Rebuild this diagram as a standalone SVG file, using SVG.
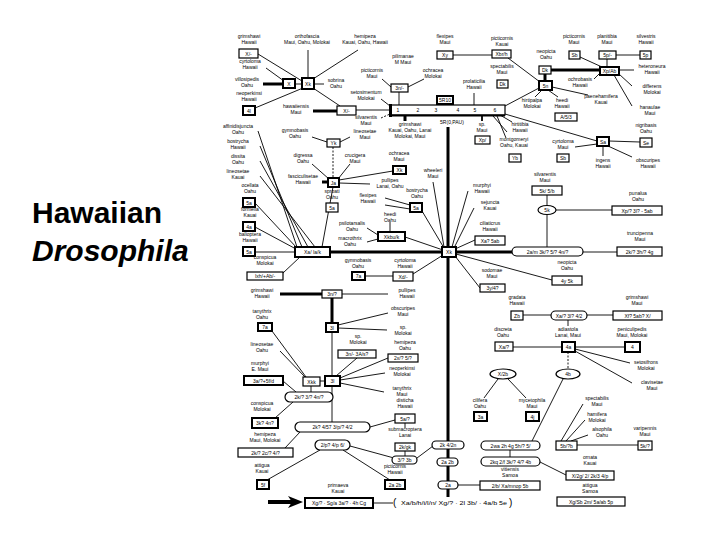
<svg xmlns="http://www.w3.org/2000/svg" width="720" height="540" viewBox="0 0 720 540">
<style>
text{font-family:"Liberation Sans",Arial,sans-serif;fill:#000}
.t{font-size:5px;text-anchor:middle}
.bt{font-size:5px;text-anchor:middle}
.b{fill:#fff;stroke:#000;stroke-width:1.2}
.bk{fill:#fff;stroke:#000;stroke-width:2}
.o{fill:#fff;stroke:#000;stroke-width:1.2}
.title{font-size:30px;font-weight:bold}
.c line{stroke:#000;stroke-width:0.9;fill:none}
.c .k{stroke-width:3}
.c .m{stroke-width:1.8}
.c .d{stroke-dasharray:2 1.5}
</style>
<rect width="720" height="540" fill="#fff"/>
<text class="title" x="32" y="223">Hawaiian</text>
<text class="title" x="32" y="261" font-style="italic">Drosophila</text>

<g class="c" id="connectors">
<line x1="258" y1="54" x2="302" y2="81"/>
<line x1="266" y1="68" x2="284" y2="81"/>
<line class="k" x1="263" y1="84" x2="283" y2="84"/>
<line x1="295" y1="84" x2="302" y2="84"/>
<line x1="308" y1="78" x2="308" y2="50"/>
<line x1="313" y1="79" x2="358" y2="50"/>
<line x1="314" y1="84" x2="324" y2="84"/>
<line x1="255" y1="108" x2="303" y2="88"/>
<line x1="313" y1="88" x2="340" y2="106"/>
<line class="k" x1="313" y1="111" x2="337" y2="111"/>
<line x1="356" y1="110" x2="390" y2="110"/>
<line x1="381" y1="99" x2="390" y2="106"/>
<line class="d" x1="381" y1="118" x2="390" y2="114"/>
<line x1="382" y1="79" x2="391" y2="87"/>
<line x1="424" y1="79" x2="408" y2="87"/>
<line x1="399" y1="92" x2="399" y2="105"/>
<line x1="453" y1="55" x2="492" y2="55"/>
<line x1="474" y1="93" x2="474" y2="105"/>
<line class="k" x1="405" y1="115" x2="405" y2="121"/>
<line class="m" x1="482" y1="115" x2="482" y2="121"/>
<line x1="493" y1="116" x2="507" y2="132"/>
<line x1="497" y1="116" x2="506" y2="138"/>
<line x1="500" y1="115" x2="512" y2="122"/>
<line x1="508" y1="58" x2="540" y2="82"/>
<line class="k" x1="545" y1="74" x2="545" y2="81"/>
<line class="k" x1="551" y1="70" x2="600" y2="70"/>
<line x1="505" y1="106" x2="539" y2="88"/>
<line x1="542" y1="90" x2="535" y2="97"/>
<line x1="548" y1="90" x2="558" y2="97"/>
<line x1="552" y1="87" x2="588" y2="95"/>
<line x1="580" y1="57" x2="602" y2="67"/>
<line x1="607" y1="59" x2="607" y2="67"/>
<line x1="616" y1="55" x2="640" y2="55"/>
<line x1="619" y1="70" x2="634" y2="70"/>
<line x1="619" y1="74" x2="632" y2="86"/>
<line x1="614" y1="75" x2="632" y2="106"/>
<line x1="600" y1="73" x2="594" y2="79"/>
<line x1="505" y1="114" x2="597" y2="141"/>
<line x1="609" y1="141" x2="640" y2="142"/>
<line x1="597" y1="144" x2="575" y2="147"/>
<line x1="603" y1="146" x2="603" y2="156"/>
<line x1="608" y1="146" x2="632" y2="157"/>
<line x1="547" y1="195" x2="547" y2="206"/>
<line x1="547" y1="215" x2="547" y2="247"/>
<line x1="556" y1="210" x2="612" y2="210"/>
<line class="k" x1="456" y1="252" x2="512" y2="252"/>
<line x1="583" y1="252" x2="617" y2="252"/>
<line x1="433" y1="182" x2="444" y2="247"/>
<line x1="452" y1="247" x2="468" y2="191"/>
<line x1="454" y1="248" x2="474" y2="208"/>
<line x1="455" y1="249" x2="475" y2="240"/>
<line x1="455" y1="256" x2="480" y2="288"/>
<line x1="456" y1="254" x2="552" y2="280"/>
<line x1="523" y1="315" x2="551" y2="315"/>
<line x1="587" y1="315" x2="613" y2="315"/>
<line x1="568" y1="320" x2="568" y2="326"/>
<line x1="513" y1="347" x2="562" y2="347"/>
<line x1="575" y1="347" x2="625" y2="347"/>
<line x1="575" y1="349" x2="630" y2="363"/>
<line x1="575" y1="351" x2="632" y2="383"/>
<line class="d" x1="568" y1="352" x2="568" y2="369"/>
<line x1="498" y1="379" x2="484" y2="398"/>
<line x1="508" y1="379" x2="526" y2="398"/>
<line x1="532" y1="441" x2="563" y2="379"/>
<line x1="510" y1="450" x2="510" y2="457"/>
<line x1="540" y1="462" x2="566" y2="475"/>
<line x1="458" y1="485" x2="480" y2="485"/>
<line x1="561" y1="441" x2="583" y2="404"/>
<line x1="566" y1="441" x2="585" y2="420"/>
<line x1="571" y1="441" x2="588" y2="435"/>
<line x1="577" y1="445" x2="638" y2="445"/>
<line class="k" x1="448" y1="127" x2="448" y2="497"/>
<line x1="258" y1="131" x2="297" y2="247"/>
<line x1="260" y1="146" x2="302" y2="247"/>
<line x1="260" y1="161" x2="308" y2="247"/>
<line x1="260" y1="176" x2="315" y2="247"/>
<line x1="333" y1="187" x2="322" y2="247"/>
<line x1="255" y1="203" x2="297" y2="248"/>
<line x1="255" y1="227" x2="296" y2="249"/>
<line x1="255" y1="252" x2="295" y2="252"/>
<line x1="283" y1="273" x2="300" y2="257"/>
<line class="k" x1="330" y1="252" x2="442" y2="252"/>
<line x1="312" y1="137" x2="327" y2="142"/>
<line x1="340" y1="142" x2="350" y2="137"/>
<line class="d" x1="333" y1="147" x2="333" y2="178"/>
<line x1="312" y1="164" x2="329" y2="179"/>
<line x1="350" y1="164" x2="338" y2="179"/>
<line x1="339" y1="180" x2="393" y2="171"/>
<line class="k" x1="322" y1="182" x2="328" y2="182"/>
<line x1="339" y1="183" x2="370" y2="184"/>
<line x1="385" y1="198" x2="410" y2="205"/>
<line x1="385" y1="205" x2="410" y2="209"/>
<line x1="422" y1="211" x2="444" y2="248"/>
<line x1="367" y1="228" x2="378" y2="235"/>
<line x1="367" y1="242" x2="378" y2="239"/>
<line x1="390" y1="222" x2="390" y2="232"/>
<line x1="405" y1="237" x2="443" y2="250"/>
<line x1="365" y1="276" x2="393" y2="276"/>
<line x1="413" y1="274" x2="443" y2="255"/>
<line class="k" x1="280" y1="294" x2="322" y2="294"/>
<line x1="342" y1="294" x2="388" y2="294"/>
<line class="k" x1="332" y1="298" x2="332" y2="323"/>
<line x1="338" y1="325" x2="388" y2="313"/>
<line x1="338" y1="328" x2="387" y2="330"/>
<line x1="332" y1="332" x2="332" y2="376"/>
<line x1="272" y1="331" x2="306" y2="377"/>
<line x1="280" y1="351" x2="305" y2="377"/>
<line x1="320" y1="381" x2="325" y2="381"/>
<line x1="336" y1="376" x2="357" y2="358"/>
<line x1="340" y1="378" x2="388" y2="358"/>
<line x1="340" y1="380" x2="385" y2="373"/>
<line x1="340" y1="383" x2="384" y2="392"/>
<line x1="283" y1="381" x2="296" y2="392"/>
<line x1="311" y1="386" x2="311" y2="392"/>
<line x1="293" y1="402" x2="275" y2="418"/>
<line x1="332" y1="386" x2="332" y2="422"/>
<line x1="370" y1="427" x2="395" y2="420"/>
<line x1="405" y1="423" x2="405" y2="428"/>
<line x1="300" y1="432" x2="285" y2="448"/>
<line x1="320" y1="450" x2="267" y2="480"/>
<line x1="343" y1="450" x2="390" y2="480"/>
<line x1="350" y1="446" x2="394" y2="458"/>
<line x1="417" y1="458" x2="433" y2="446"/>
<line x1="405" y1="451" x2="405" y2="456"/>
<line x1="373" y1="503" x2="393" y2="503"/>
</g>

<g id="arrow"><line x1="268" y1="502" x2="292" y2="502" stroke="#000" stroke-width="4"/><polygon points="288,496 303,502 288,508 292,502" fill="#000"/></g>

<g id="n_grimshawi"><text class="t" x="249" y="38">grimshawi<tspan x="249" dy="6">Hawaii</tspan></text><rect class="b" x="239" y="49" width="19" height="9"/><text class="bt" x="248.5" y="55.5">X/-</text></g>
<g id="n_orthofascia"><text class="t" x="307" y="38">orthofascia<tspan x="307" dy="6">Maui, Oahu, Molokai</tspan></text></g>
<g id="n_hemipeza"><text class="t" x="365" y="38">hemipeza<tspan x="365" dy="6">Kauai, Oahu, Hawaii</tspan></text></g>
<g id="n_cyrtoloma"><text class="t" x="250" y="63">cyrtoloma<tspan x="250" dy="6">Hawaii</tspan></text></g>
<g id="n_villosipedis"><text class="t" x="247" y="81">villosipedis<tspan x="247" dy="6">Oahu</tspan></text></g>
<g id="n_neoperkinsi"><text class="t" x="249" y="95">neoperkinsi<tspan x="249" dy="6">Hawaii</tspan></text><rect class="bk" x="243" y="106" width="12" height="9"/><text class="bt" x="249" y="112.5">4l</text></g>
<g id="b_X"><rect class="bk" x="283" y="79" width="12" height="9"/><text class="bt" x="289" y="85.5">X</text></g>
<g id="b_Xk1"><rect class="bk" x="302" y="78" width="12" height="11"/><text class="bt" x="308" y="85.5">Xk</text></g>
<g id="n_sobrina"><text class="t" x="336" y="82">sobrina<tspan x="336" dy="6">Oahu</tspan></text></g>
<g id="n_hawaiiensis"><text class="t" x="296" y="108">hawaiiensis<tspan x="296" dy="6">Maui</tspan></text><rect class="b" x="337" y="106" width="19" height="9"/><text class="bt" x="346.5" y="112.5">X/-</text></g>
<g id="n_setosimentum"><text class="t" x="366" y="94">setosimentum<tspan x="366" dy="6">Molokai</tspan></text></g>
<g id="n_silvarentis"><text class="t" x="366" y="119">silvarentis<tspan x="366" dy="6">Maui</tspan></text></g>
<g id="n_3n"><text class="t" x="403" y="58">pilimanae<tspan x="403" dy="6">M Maui</tspan></text><text class="t" x="372" y="72">picticornis<tspan x="372" dy="6">Maui</tspan></text><text class="t" x="433" y="72">ochracea<tspan x="433" dy="6">Molokai</tspan></text><rect class="b" x="391" y="84" width="17" height="8"/><text class="bt" x="399.5" y="90">3n/-</text></g>
<g id="n_Xy"><text class="t" x="445" y="38">flexipes<tspan x="445" dy="6">Maui</tspan></text><rect class="b" x="437" y="51" width="16" height="8"/><text class="bt" x="445" y="57">Xy</text></g>
<g id="bar"><rect x="390" y="105" width="115" height="10" fill="#fff" stroke="#000" stroke-width="1.2"/><rect x="389" y="104" width="3" height="13" fill="#000"/><line x1="390" y1="115.5" x2="505" y2="115.5" stroke="#000" stroke-width="2.2"/>
<text class="bt" x="398" y="112">1</text><text class="bt" x="418" y="112">2</text><text class="bt" x="436" y="112">3</text><text class="bt" x="458" y="112">4</text><text class="bt" x="475" y="112">5</text><text class="bt" x="495" y="112">6</text>
<rect class="bk" x="437" y="96" width="16" height="8"/><text class="bt" x="445" y="102">5R10</text><text class="t" x="452" y="124">5R(0,PAU)</text></g>
<g id="n_grimshawi2"><text class="t" x="410" y="126">grimshawi<tspan x="410" dy="6">Kauai, Oahu, Lanai</tspan><tspan x="410" dy="6">Molokai, Maui</tspan></text></g>
<g id="n_Xp1"><text class="t" x="482" y="126">sp.<tspan x="482" dy="6">Maui</tspan></text><rect class="b" x="475" y="136" width="15" height="8"/><text class="bt" x="482.5" y="142">Xp/</text></g>
<g id="n_Yb"><text class="t" x="520" y="126">hirtitibia<tspan x="520" dy="6">Hawaii</tspan></text><text class="t" x="514" y="141">montgomeryi<tspan x="514" dy="6">Oahu, Kauai</tspan></text><rect class="b" x="509" y="154" width="12" height="8"/><text class="bt" x="515" y="160">Yb</text></g>
<g id="n_prolaticilia"><text class="t" x="474" y="83">prolaticilia<tspan x="474" dy="6">Hawaii</tspan></text></g>
<g id="n_Xbr"><text class="t" x="502" y="40">picticornis<tspan x="502" dy="6">Kauai</tspan></text><rect class="b" x="492" y="50" width="19" height="8"/><text class="bt" x="501.5" y="56">Xbr/h</text></g>
<g id="n_Dk2"><text class="t" x="502" y="68">spectabilis<tspan x="502" dy="6">Maui</tspan></text><rect class="b" x="497" y="80" width="11" height="8"/><text class="bt" x="502.5" y="86">Dk</text></g>
<g id="b_5n"><rect class="bk" x="539" y="81" width="13" height="9"/><text class="bt" x="545.5" y="87.5">5n</text></g>
<g id="n_Dk1"><text class="t" x="546" y="53">neopicta<tspan x="546" dy="6">Oahu</tspan></text><rect class="b" x="539" y="66" width="12" height="8"/><text class="bt" x="545" y="72">Dk</text></g>
<g id="n_5n_lab"><text class="t" x="532" y="102">hirtipalpa<tspan x="532" dy="6">Molokai</tspan></text><text class="t" x="562" y="102">heedi<tspan x="562" dy="6">Hawaii</tspan></text><rect class="b" x="555" y="113" width="22" height="8"/><text class="bt" x="566" y="119">A/5/3</text><text class="t" x="601" y="98">paenehamifera<tspan x="601" dy="6">Kauai</tspan></text><text class="t" x="580" y="81">ochrobasis<tspan x="580" dy="6">Hawaii</tspan></text></g>
<g id="n_Sb1"><text class="t" x="574" y="38">picticornis<tspan x="574" dy="6">Maui</tspan></text><rect class="b" x="569" y="51" width="11" height="8"/><text class="bt" x="574.5" y="57">Sb</text></g>
<g id="n_5p1"><text class="t" x="607" y="38">planitibia<tspan x="607" dy="6">Maui</tspan></text><rect class="b" x="599" y="51" width="17" height="8"/><text class="bt" x="607.5" y="57">5p/-</text></g>
<g id="n_5p2"><text class="t" x="646" y="38">silvestris<tspan x="646" dy="6">Hawaii</tspan></text><rect class="b" x="640" y="51" width="11" height="8"/><text class="bt" x="645.5" y="57">5p</text></g>
<g id="b_Xp"><rect class="bk" x="600" y="67" width="19" height="8"/><text class="bt" x="609.5" y="73">Xp/Ab</text></g>
<g id="n_Xp_lab"><text class="t" x="652" y="68">heteroneura<tspan x="652" dy="6">Hawaii</tspan></text><text class="t" x="652" y="88">differens<tspan x="652" dy="6">Molokai</tspan></text><text class="t" x="650" y="109">hanaulae<tspan x="650" dy="6">Maui</tspan></text></g>
<g id="b_Sa"><rect class="bk" x="597" y="137" width="12" height="9"/><text class="bt" x="603" y="143.5">Sa</text></g>
<g id="n_Se"><text class="t" x="646" y="127">nigribasis<tspan x="646" dy="6">Oahu</tspan></text><rect class="b" x="640" y="138" width="12" height="9"/><text class="bt" x="646" y="144.5">Se</text></g>
<g id="n_Sb2"><text class="t" x="563" y="143">cyrtoloma<tspan x="563" dy="6">Maui</tspan></text><rect class="b" x="557" y="154" width="12" height="8"/><text class="bt" x="563" y="160">Sb</text></g>
<g id="n_Sa_lab"><text class="t" x="603" y="162">ingens<tspan x="603" dy="6">Hawaii</tspan></text><text class="t" x="648" y="162">obscuripes<tspan x="648" dy="6">Hawaii</tspan></text></g>
<g id="n_5k1"><text class="t" x="545" y="176">silvarentis<tspan x="545" dy="6">Maui</tspan></text><rect class="b" x="532" y="186" width="30" height="9"/><text class="bt" x="547" y="192.5">5k/ 5/b</text></g>
<g id="o_5k"><ellipse class="o" cx="547" cy="210" rx="9" ry="4.5"/><text class="bt" x="547" y="212">5k</text></g>
<g id="n_Xp2"><text class="t" x="638" y="195">punalua<tspan x="638" dy="6">Oahu</tspan></text><rect class="b" x="612" y="206" width="50" height="9"/><text class="bt" x="637" y="212.5">Xp/? 3l? - 5ab</text></g>
<g id="o_main"><rect class="o" x="512" y="247" width="71" height="9" rx="4.5"/><text class="bt" x="547.5" y="253.5">2a/m 3k/? 5/? 4n/?</text></g>
<g id="n_truncipenna"><text class="t" x="640" y="235">truncipenna<tspan x="640" dy="6">Maui</tspan></text><rect class="b" x="617" y="247" width="45" height="9"/><text class="bt" x="639.5" y="253.5">2k/? 3h/? 4g</text></g>
<g id="n_right_fan"><text class="t" x="433" y="172">wheeleri<tspan x="433" dy="6">Maui</tspan></text><text class="t" x="482" y="187">murphyi<tspan x="482" dy="6">Hawaii</tspan></text><text class="t" x="490" y="204">sejuncta<tspan x="490" dy="6">Kauai</tspan></text><text class="t" x="490" y="225">ciliaticrus<tspan x="490" dy="6">Hawaii</tspan></text><rect class="b" x="475" y="236" width="30" height="9"/><text class="bt" x="490" y="242.5">Xa? 5ab</text></g>
<g id="b_node"><rect class="bk" x="442" y="247" width="14" height="10"/><text class="bt" x="449" y="254">Xk</text></g>
<g id="n_3y"><text class="t" x="492" y="272">sodomae<tspan x="492" dy="6">Maui</tspan></text><rect class="b" x="480" y="284" width="25" height="8"/><text class="bt" x="492.5" y="290">3y/4?</text></g>
<g id="n_4y"><text class="t" x="567" y="264">neopicta<tspan x="567" dy="6">Oahu</tspan></text><rect class="b" x="552" y="276" width="30" height="9"/><text class="bt" x="567" y="282.5">4y 5k</text></g>
<g id="n_Zb"><text class="t" x="517" y="299">gradata<tspan x="517" dy="6">Hawaii</tspan></text><rect class="b" x="511" y="311" width="12" height="9"/><text class="bt" x="517" y="317.5">Zb</text></g>
<g id="o_Xa3l"><rect class="o" x="551" y="311" width="36" height="9" rx="4.5"/><text class="bt" x="569" y="317.5">Xa/? 3l? 4/2</text></g>
<g id="n_Xf"><text class="t" x="637" y="299">grimshawi<tspan x="637" dy="6">Maui</tspan></text><rect class="b" x="613" y="311" width="49" height="9"/><text class="bt" x="637.5" y="317.5">Xf? 5ab? X/</text></g>
<g id="n_Xa1"><text class="t" x="503" y="331">discreta<tspan x="503" dy="6">Oahu</tspan></text><rect class="b" x="495" y="342" width="18" height="9"/><text class="bt" x="504" y="348.5">Xa/?</text></g>
<g id="n_4a"><text class="t" x="568" y="331">adiastola<tspan x="568" dy="6">Lanai, Maui</tspan></text><rect class="bk" x="562" y="342" width="13" height="10"/><text class="bt" x="568.5" y="349">4a</text></g>
<g id="n_4"><text class="t" x="632" y="331">peniculipedis<tspan x="632" dy="6">Maui, Molokai</tspan></text><rect class="bk" x="625" y="342" width="15" height="10"/><text class="bt" x="632.5" y="349">4</text></g>
<g id="n_4a_lab"><text class="t" x="646" y="364">setosifrons<tspan x="646" dy="6">Molokai</tspan></text><text class="t" x="652" y="384">clavisetae<tspan x="652" dy="6">Maui</tspan></text></g>
<g id="o_4b"><ellipse class="o" cx="568" cy="374" rx="12" ry="5"/><text class="bt" x="568" y="376">4b</text></g>
<g id="o_X2b"><ellipse class="o" cx="503" cy="374" rx="13" ry="5"/><text class="bt" x="503" y="376">X/2b</text></g>
<g id="n_3a"><text class="t" x="480" y="402">cilifera<tspan x="480" dy="6">Oahu</tspan></text><rect class="bk" x="474" y="412" width="13" height="9"/><text class="bt" x="480.5" y="418.5">3a</text></g>
<g id="n_4j"><text class="t" x="532" y="402">mycetophila<tspan x="532" dy="6">Maui</tspan></text><rect class="bk" x="526" y="412" width="13" height="9"/><text class="bt" x="532.5" y="418.5">4j</text></g>
<g id="n_5b"><text class="t" x="597" y="400">spectabilis<tspan x="597" dy="6">Maui</tspan></text><text class="t" x="597" y="416">hamifera<tspan x="597" dy="6">Molokai</tspan></text><text class="t" x="602" y="431">alsophila<tspan x="602" dy="6">Oahu</tspan></text><rect class="b" x="556" y="441" width="21" height="9"/><text class="bt" x="566.5" y="447.5">5b/?b</text></g>
<g id="n_5k2"><text class="t" x="645" y="430">varipennis<tspan x="645" dy="6">Maui</tspan></text><rect class="b" x="638" y="441" width="14" height="9"/><text class="bt" x="645" y="447.5">5k/?</text></g>
<g id="o_2wa"><rect class="o" x="481" y="441" width="59" height="9" rx="4.5"/><text class="bt" x="510.5" y="447.5">2wa 2h 4g 5h/? 5/</text></g>
<g id="o_2kq"><rect class="o" x="481" y="457" width="59" height="9" rx="4.5"/><text class="bt" x="510.5" y="463.5">2kq 2/f 3k/? 4/? 4b</text></g>
<g id="n_X2g"><text class="t" x="590" y="459">ornata<tspan x="590" dy="6">Kauai</tspan></text><rect class="b" x="566" y="471" width="48" height="9"/><text class="bt" x="590" y="477.5">X/2g/ 2/ 2k/3 4/p</text></g>
<g id="n_2b"><text class="t" x="510" y="471">vitiensis<tspan x="510" dy="6">Samoa</tspan></text><rect class="b" x="480" y="481" width="60" height="9"/><text class="bt" x="510" y="487.5">2/b/ Xa/mnop 5b</text></g>
<g id="n_Xg"><text class="t" x="590" y="487">attigua<tspan x="590" dy="6">Samoa</tspan></text><rect class="b" x="557" y="497" width="68" height="9"/><text class="bt" x="591" y="503.5">Xg/Sb 2m/ 5a/ab 5p</text></g>

<g id="n_col"><text class="t" x="238" y="128">affinidisjuncta<tspan x="238" dy="6">Oahu</tspan></text><text class="t" x="238" y="143">bostrycha<tspan x="238" dy="6">Hawaii</tspan></text><text class="t" x="238" y="158">dissita<tspan x="238" dy="6">Oahu</tspan></text><text class="t" x="238" y="173">lineosetae<tspan x="238" dy="6">Kauai</tspan></text></g>
<g id="n_5a1"><text class="t" x="250" y="187">ocellata<tspan x="250" dy="6">Oahu</tspan></text><rect class="bk" x="243" y="198" width="12" height="9"/><text class="bt" x="249" y="204.5">5a</text></g>
<g id="n_4a2"><text class="t" x="250" y="211">formella<tspan x="250" dy="6">Kauai</tspan></text><rect class="bk" x="243" y="222" width="12" height="9"/><text class="bt" x="249" y="228.5">4a</text></g>
<g id="n_5a2"><text class="t" x="250" y="236">balioptera<tspan x="250" dy="6">Hawaii</tspan></text><rect class="bk" x="243" y="247" width="12" height="9"/><text class="bt" x="249" y="253.5">5a</text></g>
<g id="b_Xa"><rect class="bk" x="295" y="247" width="35" height="10"/><text class="bt" x="312.5" y="254">Xa/ Ia/k</text></g>
<g id="n_Ixh"><text class="t" x="265" y="259">conspicua<tspan x="265" dy="6">Molokai</tspan></text><rect class="b" x="247" y="272" width="36" height="8"/><text class="bt" x="265" y="278">Ixh/+Ab/-</text></g>
<g id="n_Yk"><text class="t" x="295" y="132">gymnobasis<tspan x="295" dy="6">Oahu</tspan></text><text class="t" x="365" y="133">lineosetae<tspan x="365" dy="6">Maui</tspan></text><rect class="b" x="327" y="139" width="13" height="8"/><text class="bt" x="333.5" y="145">Yk</text></g>
<g id="n_Ja"><text class="t" x="303" y="157">digressa<tspan x="303" dy="6">Oahu</tspan></text><text class="t" x="355" y="157">crucigera<tspan x="355" dy="6">Maui</tspan></text><text class="t" x="303" y="178">fasciculisetae<tspan x="303" dy="6">Hawaii</tspan></text><text class="t" x="390" y="182">pullipes<tspan x="390" dy="6">Lanai, Oahu</tspan></text><rect class="bk" x="328" y="178" width="11" height="9"/><text class="bt" x="333.5" y="184.5">Ja</text></g>
<g id="n_Xk2"><text class="t" x="399" y="155">ochracea<tspan x="399" dy="6">Maui</tspan></text><rect class="bk" x="393" y="166" width="13" height="8"/><text class="bt" x="399.5" y="172">Xk</text></g>
<g id="n_5a3"><text class="t" x="332" y="193">sproati<tspan x="332" dy="6">Oahu</tspan></text><rect class="b" x="326" y="203" width="12" height="9"/><text class="bt" x="332" y="209.5">5a</text></g>
<g id="n_5a4"><text class="t" x="368" y="197">flexipes<tspan x="368" dy="6">Hawaii</tspan></text><text class="t" x="417" y="192">bostrycha<tspan x="417" dy="6">Oahu</tspan></text><rect class="bk" x="410" y="203" width="12" height="9"/><text class="bt" x="416" y="209.5">5a</text></g>
<g id="n_Xkbu"><text class="t" x="390" y="216">heedi<tspan x="390" dy="6">Oahu</tspan></text><text class="t" x="352" y="225">psilotarsalis<tspan x="352" dy="6">Oahu</tspan></text><text class="t" x="350" y="240">macrothrix<tspan x="350" dy="6">Oahu</tspan></text><rect class="bk" x="378" y="232" width="27" height="9"/><text class="bt" x="391.5" y="238.5">Xkbu/k</text></g>
<g id="n_7a1"><text class="t" x="358" y="262">gymnobasis<tspan x="358" dy="6">Oahu</tspan></text><rect class="bk" x="352" y="272" width="13" height="8"/><text class="bt" x="358.5" y="278">7a</text></g>
<g id="n_Xd"><text class="t" x="405" y="262">cyrtoloma<tspan x="405" dy="6">Hawaii</tspan></text><rect class="b" x="393" y="272" width="20" height="9"/><text class="bt" x="403" y="278.5">Xd/-</text></g>
<g id="n_3n2"><text class="t" x="262" y="292">grimshawi<tspan x="262" dy="6">Hawaii</tspan></text><text class="t" x="407" y="292">pullipes<tspan x="407" dy="6">Hawaii</tspan></text><rect class="b" x="322" y="290" width="20" height="8"/><text class="bt" x="332" y="296">3n/?</text></g>
<g id="n_3l1"><text class="t" x="403" y="310">obscuripes<tspan x="403" dy="6">Maui</tspan></text><text class="t" x="403" y="329">sp.<tspan x="403" dy="6">Molokai</tspan></text><rect class="bk" x="326" y="323" width="12" height="9"/><text class="bt" x="332" y="329.5">3l</text></g>
<g id="n_7a2"><text class="t" x="262" y="313">tanythrix<tspan x="262" dy="6">Oahu</tspan></text><rect class="bk" x="258" y="323" width="14" height="8"/><text class="bt" x="265" y="329">7a</text></g>
<g id="b_3l2"><rect class="bk" x="325" y="376" width="15" height="10"/><text class="bt" x="332.5" y="383">3l</text></g>
<g id="b_Xkk"><rect class="b" x="303" y="377" width="17" height="9"/><text class="bt" x="311.5" y="383.5">Xkk</text></g>
<g id="n_lin"><text class="t" x="262" y="346">lineosetae<tspan x="262" dy="6">Oahu</tspan></text></g>
<g id="n_3a5f"><text class="t" x="260" y="365">murphyi<tspan x="260" dy="6">E. Maui</tspan></text><rect class="bk" x="244" y="376" width="39" height="9"/><text class="bt" x="263.5" y="382.5">3a/?+5f/d</text></g>
<g id="o_2k1"><rect class="o" x="285" y="392" width="48" height="10" rx="5"/><text class="bt" x="309" y="399">2k/? 3/? 4n/?</text></g>
<g id="n_3k"><text class="t" x="262" y="405">conspicua<tspan x="262" dy="6">Molokai</tspan></text><rect class="bk" x="252" y="418" width="26" height="10"/><text class="bt" x="265" y="425">3k? 4n?</text></g>
<g id="n_3nA"><text class="t" x="358" y="338">sp.<tspan x="358" dy="6">Molokai</tspan></text><rect class="b" x="338" y="350" width="38" height="8"/><text class="bt" x="357" y="356">3n/- 3A/s?</text></g>
<g id="n_2x"><text class="t" x="405" y="344">hemipeza<tspan x="405" dy="6">Oahu</tspan></text><rect class="b" x="388" y="354" width="30" height="8"/><text class="bt" x="403" y="360">2x/? 5/?</text></g>
<g id="n_3l_lab"><text class="t" x="402" y="370">neoperkinsi<tspan x="402" dy="6">Molokai</tspan></text><text class="t" x="402" y="390">tanythrix<tspan x="402" dy="6">Maui</tspan></text></g>
<g id="o_2k2"><rect class="o" x="295" y="422" width="75" height="10" rx="5"/><text class="bt" x="332.5" y="429">2k? 4/57 3/p/? 4/2</text></g>
<g id="n_5aq"><text class="t" x="405" y="402">disticha<tspan x="405" dy="6">Hawaii</tspan></text><rect class="b" x="395" y="414" width="20" height="9"/><text class="bt" x="405" y="420.5">5a/?</text></g>
<g id="n_2kgk"><text class="t" x="405" y="431">submacroptera<tspan x="405" dy="6">Lanai</tspan></text><rect class="b" x="395" y="443" width="20" height="8"/><text class="bt" x="405" y="449">2k/gk</text></g>
<g id="n_2k2c"><text class="t" x="265" y="436">hemipeza<tspan x="265" dy="6">Maui, Molokai</tspan></text><rect class="b" x="238" y="448" width="55" height="9"/><text class="bt" x="265.5" y="454.5">2k/? 2c/? 4/?</text></g>
<g id="o_2p"><rect class="o" x="315" y="440" width="35" height="10" rx="5"/><text class="bt" x="332.5" y="447">2/p? 4/p 6/</text></g>
<g id="o_3b"><rect class="o" x="392" y="456" width="25" height="8" rx="4"/><text class="bt" x="404.5" y="462">3/? 3b</text></g>
<g id="o_c1"><rect class="o" x="432" y="441" width="32" height="8" rx="4"/><text class="bt" x="448" y="447">2k 4/2n</text></g>
<g id="o_c2"><rect class="o" x="437" y="458" width="21" height="8" rx="4"/><text class="bt" x="447.5" y="464">2a 2b</text></g>
<g id="o_c3"><rect class="o" x="438" y="481" width="20" height="8" rx="4"/><text class="bt" x="448" y="487">2a</text></g>
<g id="n_2a2b"><text class="t" x="395" y="468">picticornis<tspan x="395" dy="6">Hawaii</tspan></text><rect class="bk" x="385" y="480" width="20" height="9"/><text class="bt" x="395" y="486.5">2a 2b</text></g>
<g id="n_5f"><text class="t" x="262" y="467">attigua<tspan x="262" dy="6">Kauai</tspan></text><rect class="bk" x="257" y="480" width="12" height="9"/><text class="bt" x="263" y="486.5">5f</text></g>
<g id="n_primaeva"><text class="t" x="338" y="487">primaeva<tspan x="338" dy="6">Kauai</tspan></text><rect class="bk" x="305" y="498" width="68" height="10"/><text class="bt" x="339" y="505">Xg/? · Sg/a 3a/? · 4h Cg</text></g>
<g id="n_bracket"><text x="393" y="506" font-size="10">(</text><text x="401" y="505" font-size="5" textLength="106" lengthAdjust="spacingAndGlyphs">Xa/b/h/i/l/n/ Xg/? · 2l 3b/ · 4a/b 5e</text><text x="509" y="506" font-size="10">)</text></g>
</svg>
